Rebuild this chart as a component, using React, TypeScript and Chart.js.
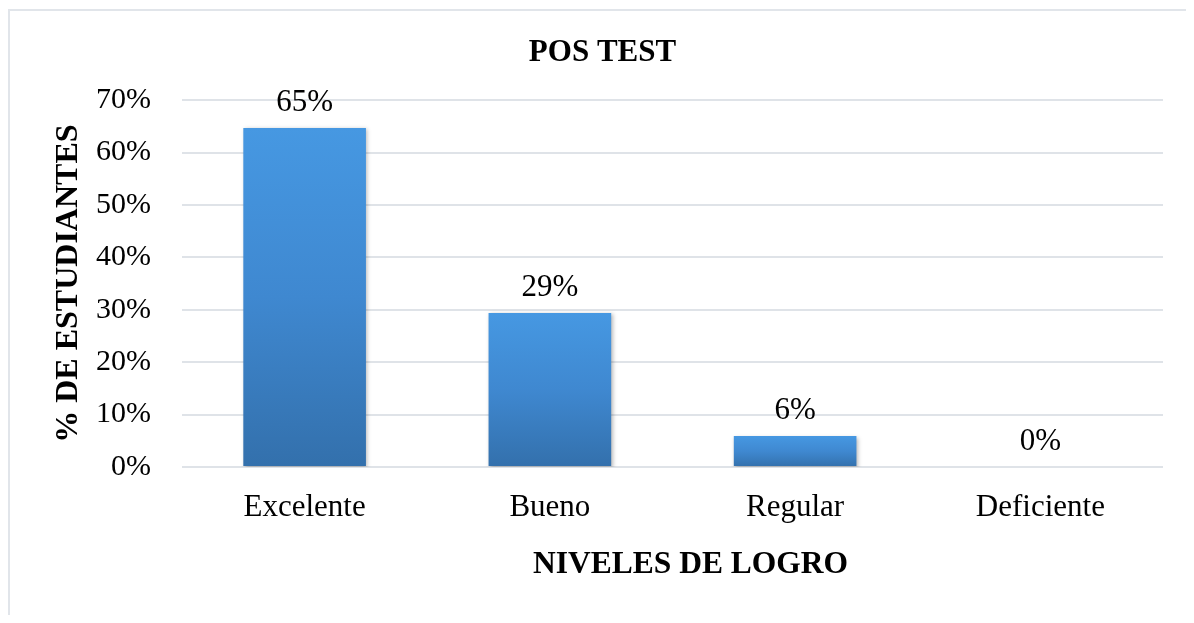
import React, { useEffect, useRef } from "react";
import { Chart, registerables } from "chart.js";

Chart.register(...registerables);

const categories = ["Excelente", "Bueno", "Regular", "Deficiente"];
const values = [64.7, 29.4, 5.9, 0];
const valueLabels = ["65%", "29%", "6%", "0%"];
const yTicks = [0, 10, 20, 30, 40, 50, 60, 70];
const chartTitle = "POS TEST";
const xTitle = "NIVELES DE LOGRO";
const yTitle = "% DE ESTUDIANTES";

const FONT = "'Liberation Serif', 'Times New Roman', serif";

const barValueLabels = {
  id: "barValueLabels",
  afterDatasetsDraw(chart: any) {
    const ctx = chart.ctx;
    const meta = chart.getDatasetMeta(0);
    ctx.save();
    ctx.font = `31px ${FONT}`;
    ctx.fillStyle = "#000000";
    ctx.textAlign = "center";
    ctx.textBaseline = "middle";
    meta.data.forEach((bar: any, i: number) => {
      ctx.fillText(valueLabels[i], bar.x, bar.y - 25);
    });
    ctx.restore();
  },
};

const customTitles = {
  id: "customTitles",
  afterDraw(chart: any) {
    const ctx = chart.ctx;
    ctx.save();
    ctx.fillStyle = "#000000";
    ctx.textAlign = "center";
    ctx.textBaseline = "middle";
    ctx.font = `bold 31px ${FONT}`;
    ctx.fillText(chartTitle, 594.5, 45);
    ctx.font = `bold 31.5px ${FONT}`;
    ctx.fillText(xTitle, 682.5, 557);
    ctx.restore();
  },
};

const barShadow = {
  id: "barShadow",
  beforeDatasetsDraw(chart: any) {
    const ctx = chart.ctx;
    ctx.save();
    ctx.shadowColor = "rgba(0,0,0,0.28)";
    ctx.shadowBlur = 4;
    ctx.shadowOffsetX = 1.5;
    ctx.shadowOffsetY = 1.5;
  },
  afterDatasetsDraw(chart: any) {
    chart.ctx.restore();
  },
};

export default function App() {
  const ref = useRef<HTMLCanvasElement | null>(null);

  useEffect(() => {
    if (!ref.current) return;
    const chart = new Chart(ref.current, {
      type: "bar",
      data: {
        labels: categories,
        datasets: [
          {
            data: values,
            backgroundColor: (c: any) => {
              const ch = c.chart;
              const area = ch.chartArea;
              if (!area || c.raw === undefined) return "#3f87cf";
              const ys = ch.scales.y;
              const top = ys.getPixelForValue(c.raw);
              const bottom = ys.getPixelForValue(0);
              if (!isFinite(top) || bottom - top < 1) return "#3f87cf";
              const g = ch.ctx.createLinearGradient(0, top, 0, bottom);
              g.addColorStop(0, "#4698e2");
              g.addColorStop(0.5, "#3f88d0");
              g.addColorStop(1, "#3370ac");
              return g;
            },
            borderWidth: 0,
            categoryPercentage: 1,
            barPercentage: 0.5,
          },
        ],
      },
      options: {
        responsive: false,
        animation: false,
        layout: { padding: { top: 0, right: 23, bottom: 0, left: 0 } },
        plugins: {
          legend: { display: false },
          tooltip: { enabled: false },
          title: {
            display: true,
            text: chartTitle,
            color: "rgba(0,0,0,0)",
            font: { family: FONT, size: 31, weight: "bold", lineHeight: 1.2 },
            padding: { top: 26, bottom: 29 },
          },
        },
        scales: {
          x: {
            grid: { display: false, drawTicks: false },
            border: { display: false },
            ticks: {
              color: "#000000",
              font: { family: FONT, size: 31 },
              padding: 22,
              maxRotation: 0,
            },
            title: {
              display: true,
              text: xTitle,
              color: "rgba(0,0,0,0)",
              font: { family: FONT, size: 31.5, weight: "bold", lineHeight: 1.2 },
              padding: { top: 0, bottom: 28 },
            },
            afterFit: (s: any) => {
              s.height = 148;
            },
          },
          y: {
            min: 0,
            max: 70,
            afterBuildTicks: (s: any) => {
              s.ticks = yTicks.map((v) => ({ value: v }));
            },
            grid: { color: "#dfe3e8", lineWidth: 2, drawTicks: false },
            border: { display: false },
            ticks: {
              color: "#000000",
              font: { family: FONT, size: 30 },
              padding: 31,
              callback: (v: any) => `${v}%`,
            },
            title: {
              display: true,
              text: yTitle,
              color: "#000000",
              font: { family: FONT, size: 32, weight: "bold", lineHeight: 1.2 },
              padding: { top: 42, bottom: 0 },
            },
            afterFit: (s: any) => {
              s.width = 174;
            },
          },
        },
      },
      plugins: [barShadow, barValueLabels, customTitles],
    });
    return () => chart.destroy();
  }, []);

  return (
    <div style={{ position: "relative", width: 1178, height: 607 }}>
      <canvas
        ref={ref}
        width={1178}
        height={607}
        style={{ position: "absolute", left: 0, top: 0, width: 1178, height: 607 }}
      />
      <div
        style={{
          position: "absolute",
          left: 0,
          top: 1,
          width: 1178,
          height: 606,
          borderLeft: "2px solid #e1e5ea",
          borderTop: "2px solid #e1e5ea",
          boxSizing: "border-box",
          pointerEvents: "none",
        }}
      />
    </div>
  );
}
